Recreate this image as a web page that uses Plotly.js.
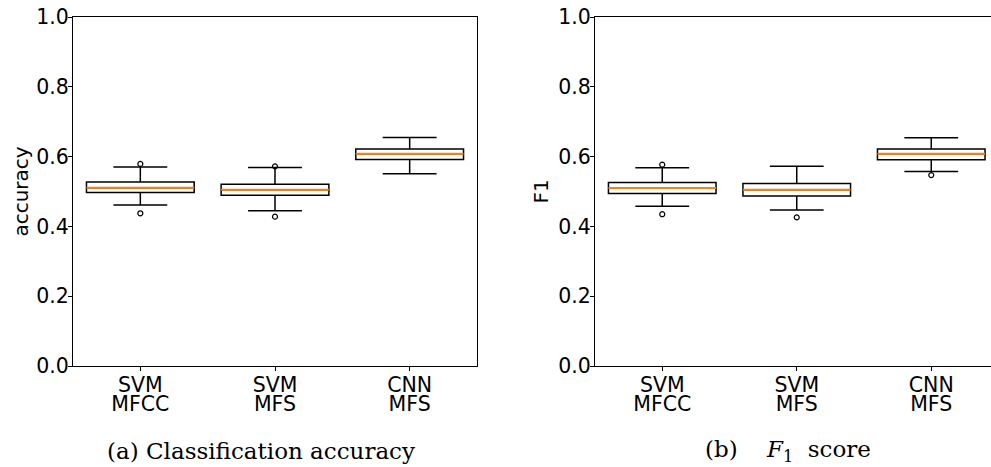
<!DOCTYPE html>
<html>
<head>
<meta charset="utf-8">
<script src="https://cdn.plot.ly/plotly-3.0.1.min.js"></script>
<style>html,body{margin:0;padding:0;background:#fff;}#chart{width:991px;height:467px;}</style>
</head>
<body>
<div id="chart"></div>
<script>
// ---- data ----
const categoriesTop = ["SVM", "SVM", "CNN"];
const categoriesBottom = ["MFCC", "MFS", "MFS"];
const positions = [1, 2, 3];

// (a) accuracy
const accQ1     = [0.497, 0.489, 0.592];
const accMedian = [0.511, 0.505, 0.608];
const accQ3     = [0.527, 0.521, 0.622];
const accLow    = [0.461, 0.445, 0.551];
const accHigh   = [0.570, 0.569, 0.655];
const accOutX   = [1, 1, 2, 2];
const accOutY   = [0.579, 0.4375, 0.572, 0.428];

// (b) F1
const f1Q1     = [0.494, 0.487, 0.591];
const f1Median = [0.510, 0.505, 0.608];
const f1Q3     = [0.526, 0.523, 0.622];
const f1Low    = [0.458, 0.447, 0.557];
const f1High   = [0.568, 0.572, 0.654];
const f1OutX   = [1, 1, 2, 3];
const f1OutY   = [0.577, 0.435, 0.426, 0.547];

// ---- styling ----
const BOXW = 0.8;
const W = 991, H = 467;
const tickFont = {family: "DejaVu Sans", size: 20.5, color: "#000"};

function medianLine(med, xa, ya) {
  const xs = [], ys = [];
  positions.forEach((p, i) => {
    xs.push(p - BOXW / 2, p + BOXW / 2, null);
    ys.push(med[i], med[i], null);
  });
  return {type: "scatter", mode: "lines", x: xs, y: ys, xaxis: xa, yaxis: ya,
          line: {color: "#ff7f0e", width: 2}, hoverinfo: "skip", showlegend: false};
}
function boxTrace(q1, med, q3, lo, hi, xa, ya) {
  return {type: "box", x: positions, q1: q1, median: med, q3: q3,
          lowerfence: lo, upperfence: hi, width: BOXW, whiskerwidth: 0.5,
          xaxis: xa, yaxis: ya, boxpoints: false,
          fillcolor: "rgba(0,0,0,0)", line: {color: "#000", width: 1.5},
          showlegend: false};
}
function outliers(xs, ys, xa, ya) {
  return {type: "scatter", mode: "markers", x: xs, y: ys, xaxis: xa, yaxis: ya,
          marker: {symbol: "circle-open", size: 5, color: "#000", line: {width: 1.2, color: "#000"}},
          showlegend: false};
}
function carrier(xa, ya) {
  // empty trace so the second-row label axis gets drawn
  return {type: "scatter", mode: "markers", x: [null], y: [null], xaxis: xa, yaxis: ya,
          hoverinfo: "skip", showlegend: false};
}

const traces = [
  boxTrace(accQ1, accMedian, accQ3, accLow, accHigh, "x", "y"),
  medianLine(accMedian, "x", "y"),
  outliers(accOutX, accOutY, "x", "y"),
  boxTrace(f1Q1, f1Median, f1Q3, f1Low, f1High, "x2", "y2"),
  medianLine(f1Median, "x2", "y2"),
  outliers(f1OutX, f1OutY, "x2", "y2"),
  carrier("x3", "y"),
  carrier("x4", "y2")
];

const xCommon = {
  tickvals: positions, ticktext: categoriesTop, tickfont: tickFont,
  showline: true, linecolor: "#000", linewidth: 1, mirror: true,
  ticks: "outside", ticklen: 4, tickcolor: "#000", ticklabelstandoff: -4,
  showgrid: false, zeroline: false
};
const xSecond = {
  tickvals: positions, ticktext: categoriesBottom, tickfont: tickFont,
  showline: false, ticks: "", ticklabelstandoff: 23,
  showgrid: false, zeroline: false, side: "bottom"
};
const yCommon = {
  range: [0, 1], dtick: 0.2, tick0: 0, tickformat: ".1f", tickfont: tickFont,
  showline: true, linecolor: "#000", linewidth: 1,
  ticks: "outside", ticklen: 4, tickcolor: "#000", ticklabelstandoff: -5,
  showgrid: false, zeroline: false
};
const titleFont = {family: "DejaVu Sans", size: 20, color: "#000"};
const subFont = {family: "DejaVu Serif", size: 23, color: "#000"};
const range2 = [0.5, 0.5 + 396 / 134.5];

const layout = {
  width: W, height: H,
  margin: {l: 0, r: 0, t: 17, b: 101},
  paper_bgcolor: "#fff", plot_bgcolor: "#fff",
  showlegend: false,
  xaxis: Object.assign({}, xCommon, {domain: [73 / W, 477 / W], range: [0.5, 3.5], anchor: "y"}),
  xaxis3: Object.assign({}, xSecond, {domain: [73 / W, 477 / W], range: [0.5, 3.5], anchor: "y", overlaying: "x"}),
  yaxis: Object.assign({}, yCommon, {domain: [0, 1], anchor: "x", mirror: true,
    title: {text: "accuracy", font: titleFont, standoff: 2}}),
  xaxis2: Object.assign({}, xCommon, {domain: [595 / W, 1], range: range2, anchor: "y2"}),
  xaxis4: Object.assign({}, xSecond, {domain: [595 / W, 1], range: range2, anchor: "y2", overlaying: "x2"}),
  yaxis2: Object.assign({}, yCommon, {domain: [0, 1], anchor: "x2", mirror: false,
    title: {text: "F1", font: titleFont, standoff: 4}}),
  annotations: [
    {text: "(a) Classification accuracy", xref: "paper", yref: "paper",
     x: 260.5 / W, y: (366 - 451) / 349, xanchor: "center", yanchor: "middle", showarrow: false,
     font: subFont},
    {text: "(b)    <i>F</i><sub>1</sub>  score", xref: "paper", yref: "paper",
     x: 788 / W, y: (366 - 451) / 349, xanchor: "center", yanchor: "middle", showarrow: false,
     font: subFont}
  ]
};

Plotly.newPlot("chart", traces, layout, {staticPlot: true, displayModeBar: false});
</script>
</body>
</html>
